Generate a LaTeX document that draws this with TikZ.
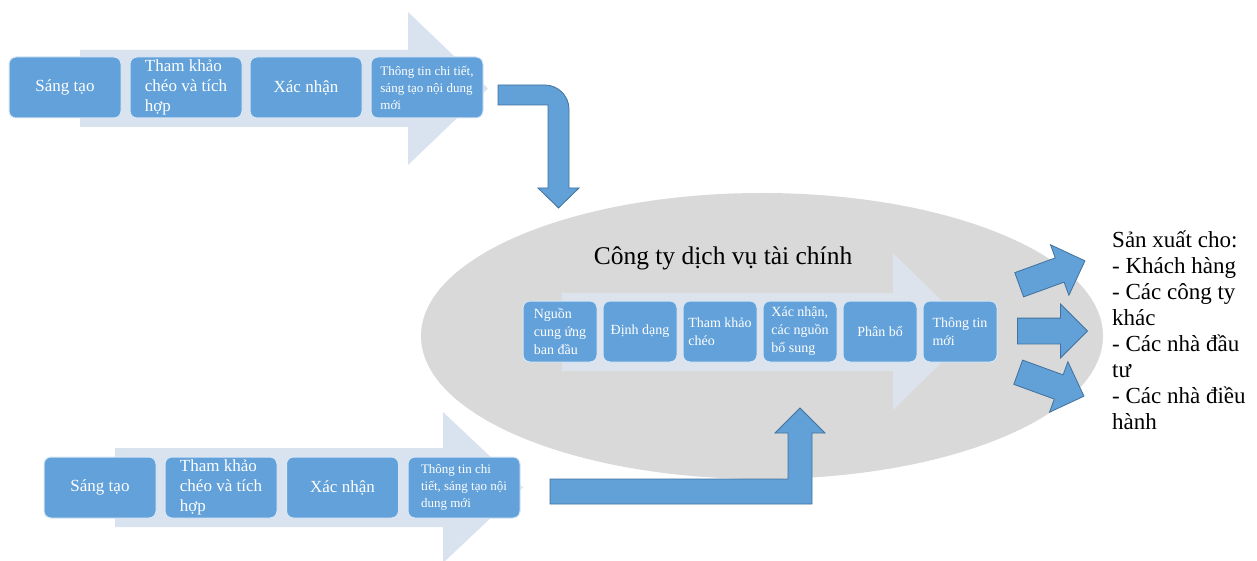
\documentclass[tikz,border=0pt]{standalone}
\usepackage{fontspec}
\setmainfont{Liberation Serif}
\usetikzlibrary{shapes.arrows,shapes.geometric}

\definecolor{boxblue}{HTML}{62A1D9}
\definecolor{boxedge}{HTML}{D8E7F5}
\definecolor{chevron}{HTML}{D9E3F0}
\definecolor{chevronin}{HTML}{DCE3EC}
\definecolor{ovalgrey}{HTML}{D9D9D9}
\definecolor{arrowblue}{HTML}{62A0D8}
\definecolor{arrowedge}{HTML}{41719C}

\tikzset{
  stagebox/.style={rounded corners=7pt, fill=boxblue, draw=boxedge, line width=1pt,
    text=white, inner sep=0pt, align=left, minimum height=61pt},
  widebox/.style={stagebox, minimum width=112pt},
  narrowbox/.style={stagebox, minimum width=74pt},
  bigfont/.style={font=\fontsize{17}{20}\selectfont},
  smallfont/.style={font=\fontsize{13}{17}\selectfont},
  innerfont/.style={font=\fontsize{14}{18}\selectfont},
  blockarrow/.style={fill=arrowblue, draw=arrowedge, line width=0.8pt},
  outarrow/.style={single arrow, blockarrow, minimum height=70pt,
    inner xsep=0pt, inner ysep=12.5pt, single arrow head extend=14pt},
}

\begin{document}
\begin{tikzpicture}[x=1pt, y=-1pt]
\path[use as bounding box, fill=white] (0,0) rectangle (1257,561);

% upper process: chevron band and its four stages
\fill[chevron] (80,50) -- (408,50) -- (408,12) -- (488,88.5) -- (408,165) -- (408,127) -- (80,127) -- cycle;
\node[widebox, bigfont]   (t1) at (65,87.5)  {Sáng tạo};
\node[widebox, bigfont]   (t2) at (186,87.5) {Tham khảo\\chéo và tích\\hợp};
\node[widebox, bigfont]   (t3) at (306,87.5) {Xác nhận};
\node[widebox, smallfont] (t4) at (427,87.5) {Thông tin chi tiết,\\sáng tạo nội dung\\mới};

% the company
\node[ellipse, fill=ovalgrey, minimum width=682pt, minimum height=286pt, inner sep=0pt] (firm) at (762,336) {};
\fill[chevronin] (562,293) -- (893,293) -- (893,253) -- (973,331.5) -- (893,410) -- (893,371) -- (562,371) -- cycle;
\node[font=\fontsize{25.5}{30}\selectfont, anchor=base] (title) at (723,265) {Công ty dịch vụ tài chính};
\node[narrowbox, innerfont] (c1) at (560,331.5) {Nguồn\\cung ứng\\ban đầu};
\node[narrowbox, innerfont] (c2) at (640,331.5) {Định dạng};
\node[narrowbox, innerfont] (c3) at (720,331.5) {Tham khảo\\chéo};
\node[narrowbox, innerfont] (c4) at (800,331.5) {Xác nhận,\\các nguồn\\bổ sung};
\node[narrowbox, innerfont] (c5) at (880,331.5) {Phân bổ};
\node[narrowbox, innerfont] (c6) at (960,331.5) {Thông tin\\mới};

% lower process
\fill[chevron] (115,448) -- (443,448) -- (443,412) -- (523,487.5) -- (443,563) -- (443,527) -- (115,527) -- cycle;
\node[widebox, bigfont]   (b1) at (100,487.5) {Sáng tạo};
\node[widebox, bigfont]   (b2) at (221,487.5) {Tham khảo\\chéo và tích\\hợp};
\node[widebox, bigfont]   (b3) at (342.5,487.5) {Xác nhận};
\node[widebox, smallfont] (b4) at (464,487.5) {Thông tin chi\\tiết, sáng tạo nội\\dung mới};

% bent arrow from the upper process down into the company
\draw[blockarrow] (498,85) -- (545,85) .. controls (558,85) and (569,96) .. (569,109)
  -- (569,188) -- (579,188) -- (558.5,208) -- (538,188) -- (548,188) -- (548,105) -- (498,105) -- cycle;

% bent arrow from the lower process up into the company
\draw[blockarrow] (550,479) -- (788,479) -- (788,433) -- (775,433) -- (800,408) -- (825,433)
  -- (812,433) -- (812,504) -- (550,504) -- cycle;

% outputs
\node[outarrow, rotate=20]  (o1) at (1046,275) {};
\node[outarrow]             (o2) at (1046,331) {};
\node[outarrow, rotate=-20] (o3) at (1045,382) {};

\node[anchor=base west, align=left, inner sep=0pt, font=\fontsize{23}{26}\selectfont] (users) at (1112,429)
  {Sản xuất cho:\\- Khách hàng\\- Các công ty\\khác\\- Các nhà đầu\\tư\\- Các nhà điều\\hành};
\end{tikzpicture}
\end{document}
